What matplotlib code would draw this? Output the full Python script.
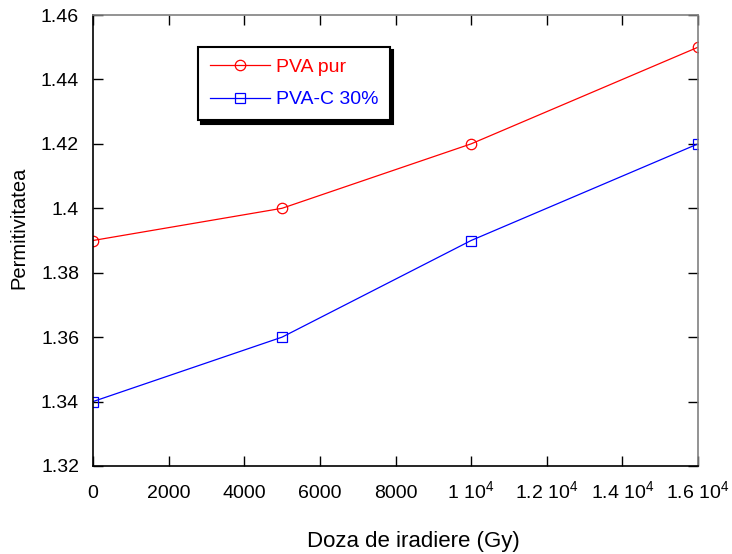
import matplotlib
matplotlib.use("Agg")
import matplotlib.pyplot as plt
from matplotlib.ticker import FixedLocator, FixedFormatter

plt.rcParams['font.family'] = ['Liberation Sans', 'DejaVu Sans']
plt.rcParams['mathtext.fontset'] = 'custom'
plt.rcParams['mathtext.rm'] = 'Liberation Sans'
plt.rcParams['mathtext.it'] = 'Liberation Sans'

dose = [0, 5000, 10000, 16000]
pva_pur = [1.39, 1.40, 1.42, 1.45]
pva_c30 = [1.34, 1.36, 1.39, 1.42]

x_ticks = [0, 2000, 4000, 6000, 8000, 10000, 12000, 14000, 16000]
x_tick_labels = ["0", "2000", "4000", "6000", "8000",
                 r"1 10$^{4}$", r"1.2 10$^{4}$", r"1.4 10$^{4}$", r"1.6 10$^{4}$"]
y_ticks = [1.32, 1.34, 1.36, 1.38, 1.40, 1.42, 1.44, 1.46]
y_tick_labels = ["1.32", "1.34", "1.36", "1.38", "1.4", "1.42", "1.44", "1.46"]

fig = plt.figure(figsize=(7.32, 5.54), dpi=100)
ax = fig.add_axes([93/732, 1 - 466/554, (698-93)/732, (466-15)/554])

ax.plot(dose, pva_pur, color='#ff0000', lw=0.9, marker='o', ms=7.5,
        mfc='none', mec='#ff0000', mew=0.9, label='PVA pur')
ax.plot(dose, pva_c30, color='#0000ff', lw=0.9, marker='s', ms=7,
        mfc='none', mec='#0000ff', mew=0.9, label='PVA-C 30%')

ax.set_xlim(0, 16000)
ax.set_ylim(1.32, 1.46)
ax.xaxis.set_major_locator(FixedLocator(x_ticks))
ax.xaxis.set_major_formatter(FixedFormatter(x_tick_labels))
ax.yaxis.set_major_locator(FixedLocator(y_ticks))
ax.yaxis.set_major_formatter(FixedFormatter(y_tick_labels))
ax.tick_params(direction='in', length=7.5, width=1, top=True, right=True,
               labelsize=14, color='black')
ax.tick_params(axis='y', pad=10)
ax.tick_params(axis='x', pad=23)
for lbl in ax.get_xticklabels():
    lbl.set_verticalalignment('baseline')
for side in ['left', 'bottom']:
    ax.spines[side].set_color('black')
for side in ['top', 'right']:
    ax.spines[side].set_color('#808080')
for s in ax.spines.values():
    s.set_linewidth(1.2)

ax.set_xlabel('Doza de iradiere (Gy)', fontsize=16, va='baseline')
ax.xaxis.set_label_coords((413 - 93) / 605, (466 - 547) / 451)
ax.set_ylabel('Permitivitatea', fontsize=14.5)
ax.yaxis.set_label_coords((28 - 93) / 605, (466 - 228) / 451)

leg = ax.legend(loc='upper left', bbox_to_anchor=((198-93)/605, 1 - (47-15)/451),
                fontsize=14, frameon=True, fancybox=False,
                shadow={'color': 'black', 'alpha': 1, 'ox': 2.5, 'oy': -2.5},
                borderpad=0.6, handlelength=3.1, handletextpad=0.3, labelspacing=0.75,
                borderaxespad=0)
leg.get_frame().set_edgecolor('black')
leg.get_frame().set_linewidth(1.5)
for txt, c in zip(leg.get_texts(), ['#ff0000', '#0000ff']):
    txt.set_color(c)

fig.savefig('out.png', dpi=100)
